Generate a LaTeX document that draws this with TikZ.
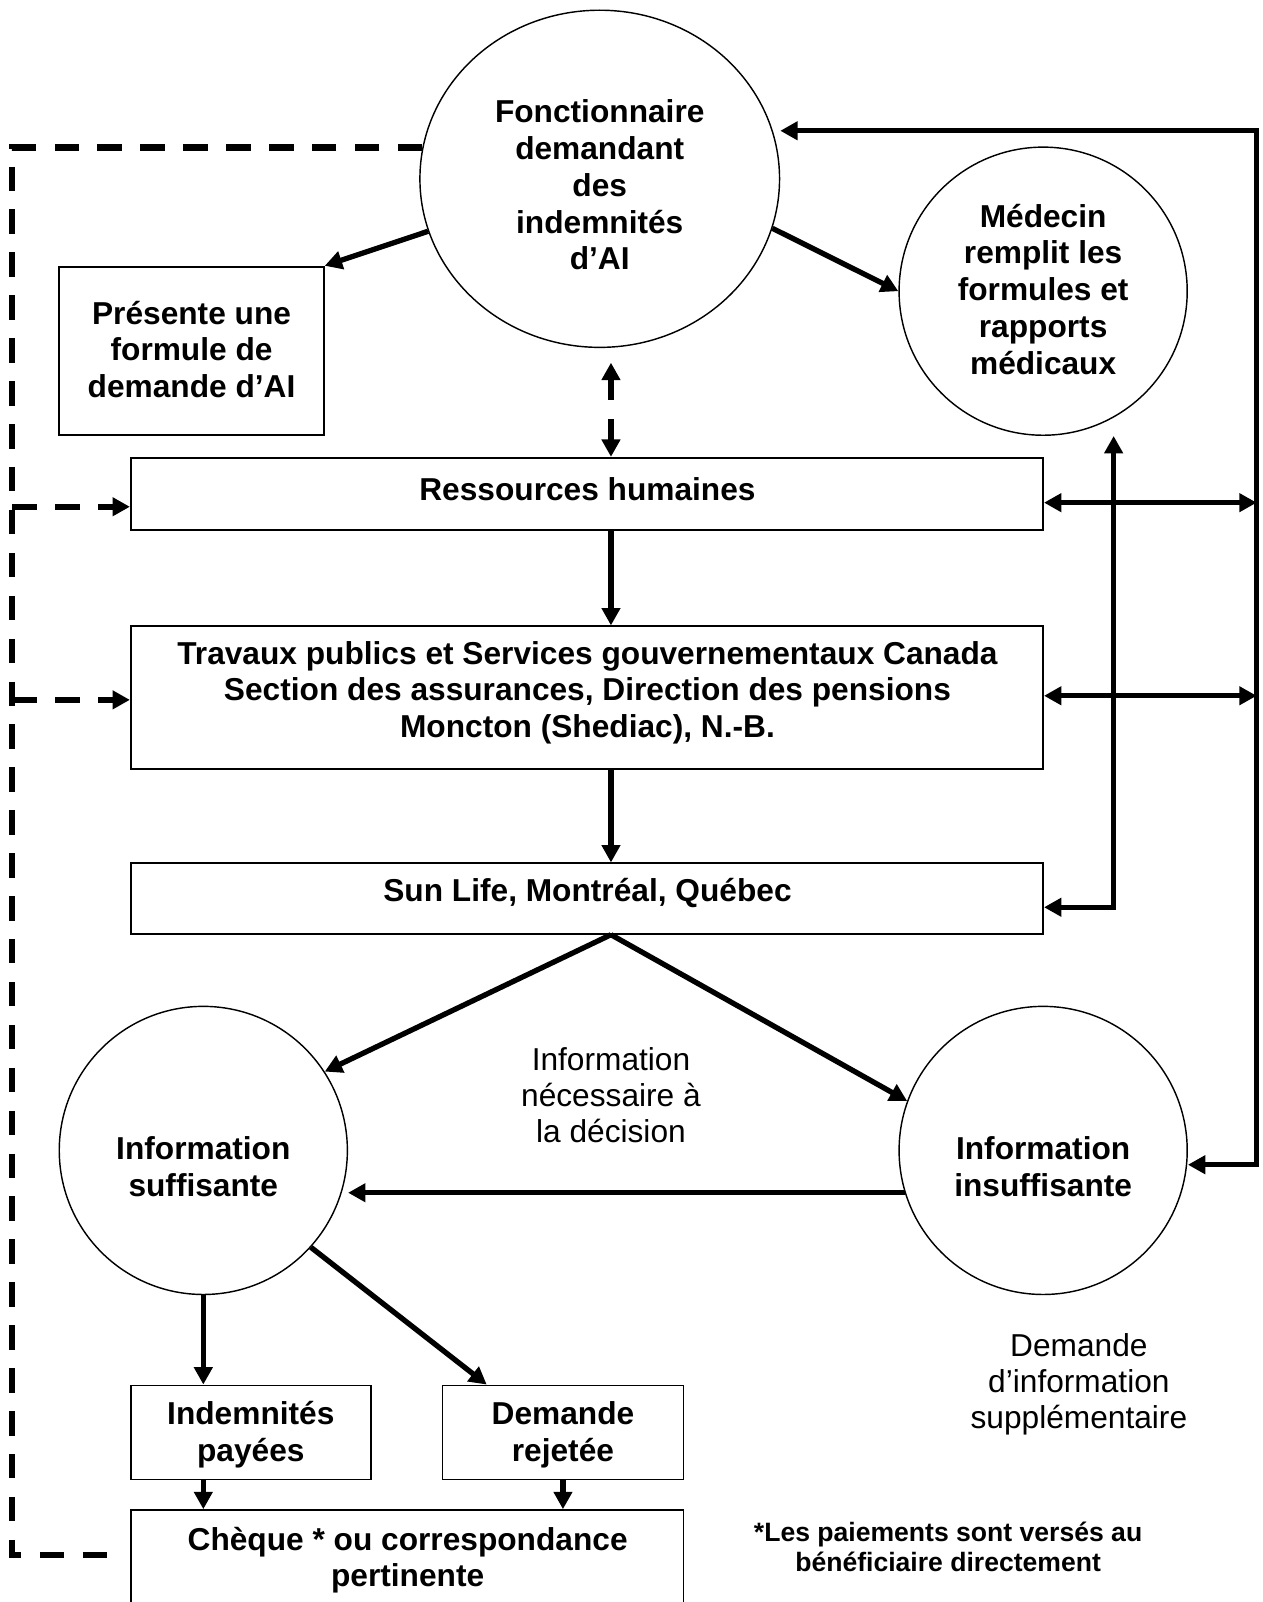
\documentclass[tikz,border=0pt]{standalone}
\usepackage{fontspec}
\setmainfont{Liberation Sans}
\usetikzlibrary{shapes.geometric,arrows.meta,calc}
\begin{document}
\begin{tikzpicture}[x=0.5pt,y=-0.5pt,
  boxs/.style={draw, line width=0.85pt, inner sep=0pt, rectangle},
  circ/.style={draw, line width=0.7pt, inner sep=0pt, circle, minimum size=141pt},
  lbl/.style={font=\fontsize{15.5}{18}\selectfont\bfseries, align=center, inner sep=0pt},
  plain/.style={font=\fontsize{15.5}{17.75}\selectfont, align=center, inner sep=0pt},
  fn/.style={font=\fontsize{13}{15}\selectfont\bfseries, align=center, inner sep=0pt},
  tip/.tip={Triangle[length=8.5pt,width=8.8pt]},
  arr/.style={line width=2.6pt, -tip},
  dbl/.style={line width=2.6pt, tip-tip},
  ddbl/.style={line width=2.6pt, tip-tip, dash pattern=on 10.5pt off 9pt},
  dsh/.style={line width=3pt, dash pattern=on 12pt off 9pt},
  darr/.style={dsh, -tip},
]
\useasboundingbox (0,0) rectangle (1236,1568);
\clip (0,0) rectangle (1236,1568);

% shapes
\node[draw, line width=0.7pt, inner sep=0pt, ellipse, minimum width=176pt, minimum height=165pt] (F) at (587,175) {};
\node[boxs, minimum width=129.5pt, minimum height=82.5pt] (P) at (187.5,343.5) {};
\node[circ] (M) at (1021,285) {};
\node[boxs, minimum width=446.5pt, minimum height=35.5pt] (RH) at (574.5,483.5) {};
\node[boxs, minimum width=446.5pt, minimum height=70pt] (TP) at (574.5,683) {};
\node[boxs, minimum width=446.5pt, minimum height=34.5pt] (SL) at (574.5,879.5) {};
\node[circ] (S) at (199,1126) {};
\node[circ] (I) at (1021,1126) {};
\node[boxs, minimum width=117.5pt, minimum height=46pt] (IP) at (245.5,1402) {};
\node[boxs, minimum width=118pt, minimum height=46pt] (DR) at (551,1402) {};
\node[boxs, minimum width=270.5pt, minimum height=56pt] (CH) at (398.5,1534) {};

% texts
\node[lbl] (Ft) at (587,181) {Fonctionnaire\\demandant\\des\\indemnités\\d’AI};
\node[lbl] (Pt) at (187.5,342) {Présente une\\formule de\\demande d’AI};
\node[lbl] (Mt) at (1021,283) {Médecin\\remplit les\\formules et\\rapports\\médicaux};
\node[lbl] (RHt) at (575,479) {Ressources humaines};
\node[lbl] (TPt) at (575,678) {Travaux publics et Services gouvernementaux Canada\\Section des assurances, Direction des pensions\\Moncton (Shediac), N.-B.};
\node[lbl] (SLt) at (575,874) {Sun Life, Montréal, Québec};
\node[lbl] (St) at (199,1142) {Information\\suffisante};
\node[lbl] (It) at (1021,1142) {Information\\insuffisante};
\node[lbl] (IPt) at (245.5,1404) {Indemnités\\payées};
\node[lbl] (DRt) at (551,1404) {Demande\\rejetée};
\node[lbl] (CHt) at (399,1527) {Chèque * ou correspondance\\pertinente};
\node[plain] (Nd) at (598,1072) {Information\\nécessaire à\\la décision};
\node[plain] (Di) at (1056,1355) {Demande\\d’information\\supplémentaire};
\node[fn] (Fn) at (928,1514) {*Les paiements sont versés au\\bénéficiaire directement};

% coordinates
\coordinate (rc1) at (1230,128);
\coordinate (rc2) at (1230,1140);
\coordinate (rh1) at (1230,492);
\coordinate (tp1) at (1230,681);
\coordinate (v1) at (1090,888);
\coordinate (fr) at (598,355);
\coordinate (dl1) at (12,0);
\coordinate (dl2) at (12,1522);
\coordinate (dl3) at (118,1522);
\coordinate (da1) at (12,496);
\coordinate (da2) at (12,685);

% connectors
\draw[dbl] (F.east |- rc1) -- (rc1) -- (rc2) -- (I.east |- rc2);
\draw[dbl] (RH.east |- rh1) -- (rh1);
\draw[dbl] (TP.east |- tp1) -- (tp1);
\draw[dbl] (v1 |- M.south) -- (v1) -- (SL.east |- v1);
\draw[arr] (F.197) -- (P.north east);
\draw[arr] (F.-16) -- (M.west);
\draw[ddbl] (fr) -- (fr |- RH.north);
\draw[arr] (RH.south -| fr) -- (TP.north -| fr);
\draw[arr] (TP.south -| fr) -- (SL.north -| fr);
\draw[arr] (SL.south -| fr) -- (S.33);
\draw[arr] (SL.south -| fr) -- (I.160);
\draw[arr] (I.197) -- (S.east |- I.197);
\draw[arr] (S.south) -- (IP.north -| S.south);
\draw[arr] (S.-42) -- ($(DR.north west)!0.186!(DR.north east)$);
\draw[arr] (IP.south -| S.south) -- (CH.north -| S.south);
\draw[arr] (DR.south) -- (CH.north -| DR.south);

% dashed
\draw[dsh] (F.170) -- (dl1 |- F.170) -- (dl2) -- (dl3);
\draw[darr] (da1) -- (RH.west |- da1);
\draw[darr] (da2) -- (TP.west |- da2);
\end{tikzpicture}
\end{document}
